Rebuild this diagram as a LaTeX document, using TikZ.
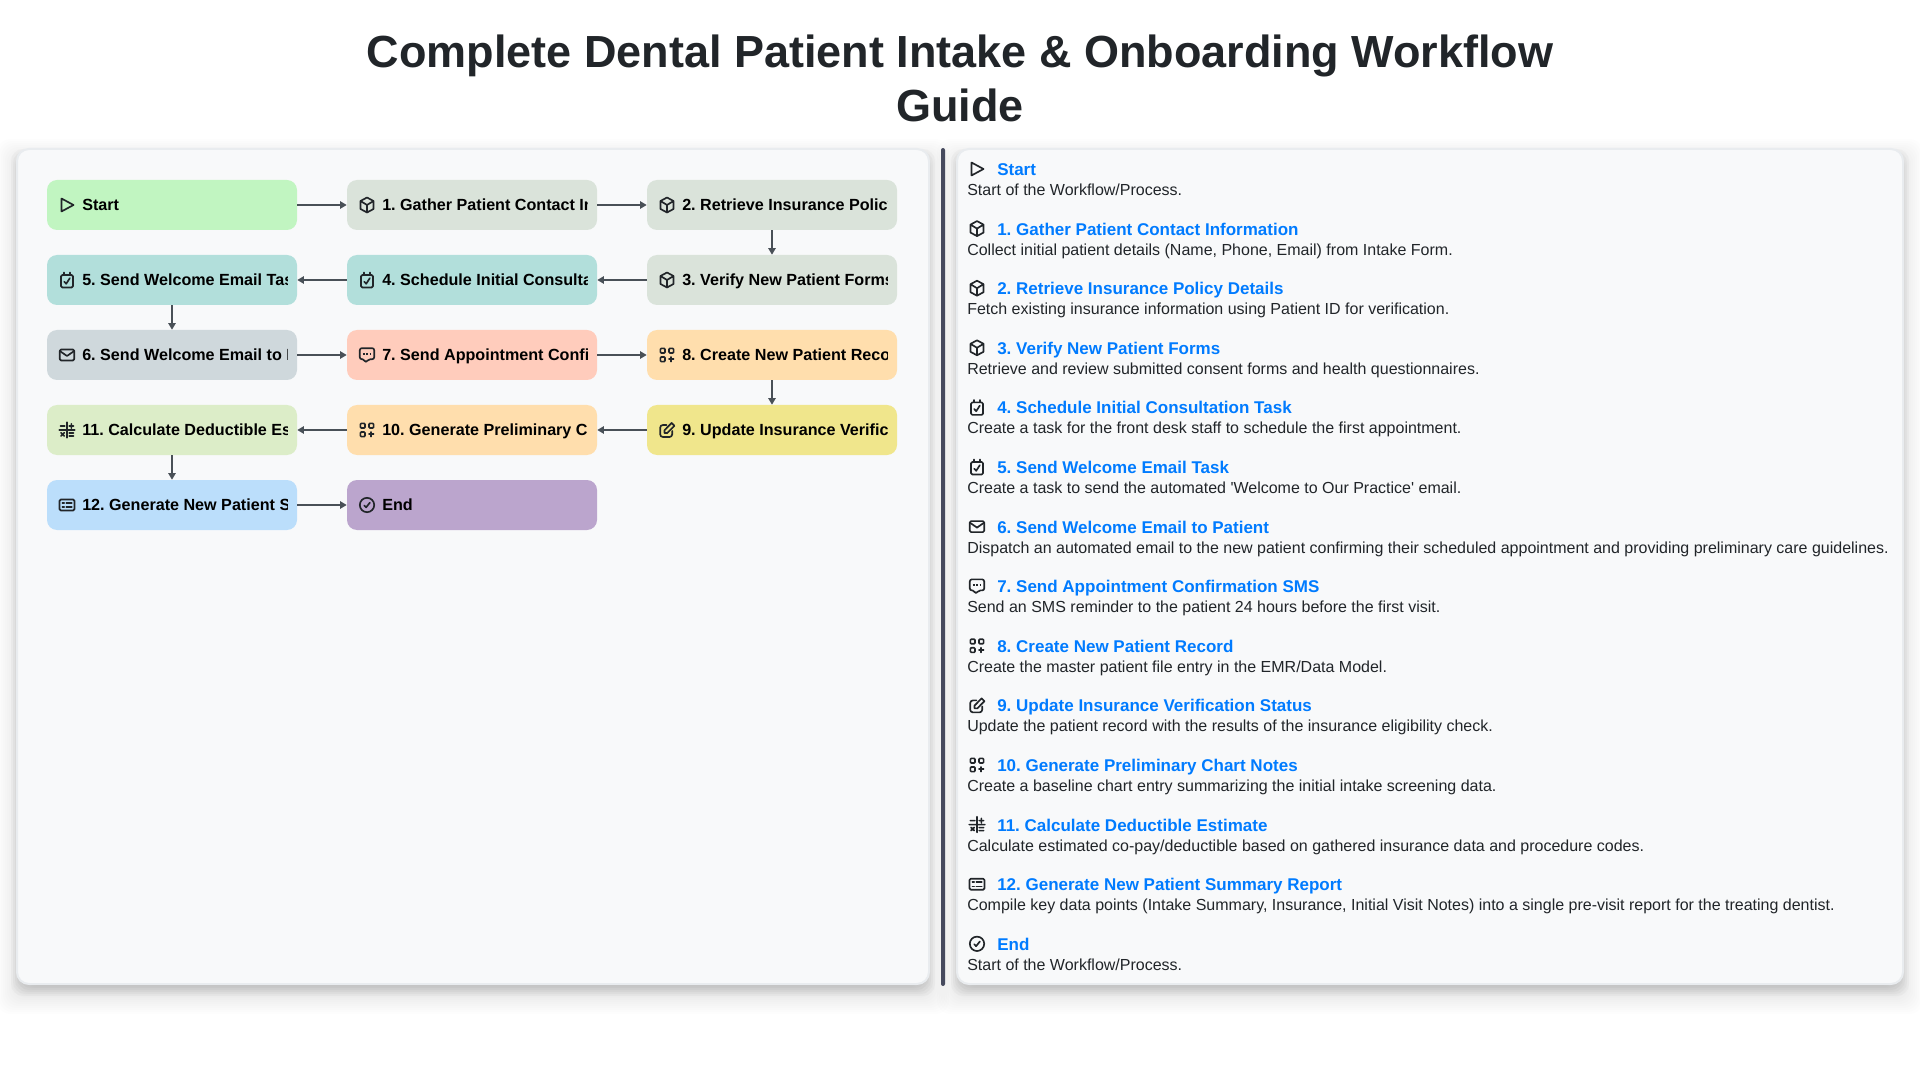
\documentclass[tikz,border=0pt]{standalone}
\usepackage{fontspec}
\setmainfont{Liberation Sans}[Ligatures=TeXOff]
\usetikzlibrary{calc,arrows.meta}
\frenchspacing

\definecolor{InkDark}{HTML}{212529}
\definecolor{LinkBlue}{HTML}{007BFF}
\definecolor{PanelBg}{HTML}{F8F9FA}
\definecolor{PanelEdge}{HTML}{E9ECEF}
\definecolor{ArrowGray}{HTML}{495057}
\definecolor{RuleDark}{HTML}{464A5E}
\definecolor{BoxStart}{HTML}{C1F5C1}
\definecolor{BoxPackage}{HTML}{DAE3DA}
\definecolor{BoxTask}{HTML}{B2DFDB}
\definecolor{BoxMail}{HTML}{CFD8DC}
\definecolor{BoxSms}{HTML}{FFCCBC}
\definecolor{BoxApps}{HTML}{FFDEAD}
\definecolor{BoxEdit}{HTML}{F0E68C}
\definecolor{BoxCalc}{HTML}{DCEDC8}
\definecolor{BoxList}{HTML}{BBDEFB}
\definecolor{BoxEnd}{HTML}{BBA5CD}

% icons, drawn round (0,0) in a 16px box
\newcommand\iconplay{\draw[iconline] (-5.5,-6.5) -- (-5.5,6.5) -- (6.5,0) -- cycle;}
\newcommand\iconbox{\draw[iconline] (0,-7.5) -- (6.5,-4) -- (6.5,4) -- (0,7.5) -- (-6.5,4) -- (-6.5,-4) -- cycle
  (-6.5,-4) -- (0,0) -- (6.5,-4) (0,0) -- (0,7.5);}
\newcommand\icontask{\draw[iconline,rounded corners=1pt] (-6,-5) rectangle (6,7.5);
  \draw[iconline] (-3,-7.5) -- (-3,-5) (3,-7.5) -- (3,-5) (-2.8,1.6) -- (-0.8,3.8) -- (2.8,-1.8);}
\newcommand\iconmail{\draw[iconline,rounded corners=1pt] (-7.2,-5.5) rectangle (7.2,5.5);
  \draw[iconline] (-7.2,-4) -- (0,1) -- (7.2,-4);}
\newcommand\iconsms{\draw[iconline,rounded corners=1.5pt] (-7.2,-6.8) -- (7.2,-6.8) -- (7.2,4.2) -- (1.5,4.2) -- (-1.5,7.8) -- (-2.5,4.2) -- (-7.2,4.2) -- cycle;
  \draw[line width=1.6pt,densely dotted,InkDark] (-4.2,-1.2) -- (4.4,-1.2);}
\newcommand\iconapps{\draw[iconline,rounded corners=.7pt] (-6.6,-6.6) rectangle (-2,-2) (2,-6.6) rectangle (6.6,-2) (-6.6,2) rectangle (-2,6.6);
  \draw[iconline] (4.3,2) -- (4.3,6.6) (2,4.3) -- (6.6,4.3);}
\newcommand\iconedit{\draw[iconline,rounded corners=2pt] (-0.5,-5) -- (-6.8,-5) -- (-6.8,7) -- (5.2,7) -- (5.2,1);
  \draw[iconline] (-2.5,3) -- (-2.5,0.2) -- (4.6,-7) -- (7.4,-4.2) -- (0.3,3) -- cycle;}
\newcommand\iconcalc{\draw[iconline] (-7.8,0) -- (7.8,0) (0,-7.8) -- (0,7.8)
  (-6.6,-4) -- (-2.2,-4) (2.2,-4) -- (6.6,-4) (4.4,-6.2) -- (4.4,-1.8)
  (-6,2.8) -- (-2.8,6) (-2.8,2.8) -- (-6,6) (2.2,3) -- (6.6,3) (2.2,6) -- (6.6,6);}
\newcommand\iconlist{\draw[iconline,rounded corners=1pt] (-7.5,-5.5) rectangle (7.5,5.5);
  \draw[iconline] (-4.6,-2.2) -- (-2.8,-2.2) (-4.6,2.2) -- (-2.8,2.2)
  (-0.6,-2.2) -- (4.8,-2.2) (-0.6,2.2) -- (4.8,2.2);}
\newcommand\iconend{\draw[iconline] (0,0) circle[radius=7.2]; \draw[iconline] (-2.8,0.4) -- (-0.9,2.4) -- (2.9,-2.4);}

% soft shadow and panel: x0, y0, x1, y1
\newcommand\softpanel[4]{%
  \foreach \s in {-20,-18,...,20}
    \fill[black,opacity=.009,rounded corners=10pt] (#1-\s,#2-\s+10) rectangle (#3+\s,#4+\s+10);
  \foreach \s in {-6,-4,...,6}
    \fill[black,opacity=.022,rounded corners=9pt] (#1-\s,#2-\s+6) rectangle (#3+\s,#4+\s+6);
  \draw[draw=PanelEdge,fill=PanelBg,line width=1.5pt,rounded corners=9pt] (#1,#2) rectangle (#3,#4);
}
% name, x, y, colour, icon, label
\newcommand\flowbox[6]{%
  \node[flownode,fill=#4] (#1) at (#2,#3) {};
  \begin{scope}[shift={(#2-105,#3)}]
    #5
  \end{scope}
  \begin{scope}
    \clip (#2-90,#3-25) rectangle (#2+115,#3+25);
    \node[flowtext] (#1t) at (#2-90,#3+5.5) {#6};
  \end{scope}
}

\begin{document}
\begin{tikzpicture}[x=0.75pt,y=-0.75pt]
\tikzstyle{iconline}=[draw=InkDark,line width=1.25pt,line join=round,line cap=round]
\tikzstyle{flownode}=[rounded corners=7.5pt,minimum width=187.5pt,minimum height=37.5pt,inner sep=0pt]
\tikzstyle{flowtext}=[anchor=base west,inner sep=0pt,text=black,font=\fontsize{12.1pt}{14pt}\selectfont\bfseries]
\tikzstyle{flowedge}=[draw=ArrowGray,line width=1.5pt,-{Triangle[length=5pt,width=5.5pt]}]
\tikzstyle{itemtitle}=[anchor=base west,inner sep=0pt,text=LinkBlue,font=\fontsize{12.75pt}{16pt}\selectfont\bfseries]
\tikzstyle{itemtext}=[anchor=base west,inner sep=0pt,text=InkDark,font=\fontsize{12pt}{14pt}\selectfont]

\useasboundingbox (0,0) rectangle (1920,1080);
\fill[white] (0,0) rectangle (1920,1080);

\node[align=center,text=InkDark,inner sep=0pt,font=\fontsize{33.75pt}{40.5pt}\selectfont\bfseries] (title) at (960,78)
  {Complete Dental Patient Intake \& Onboarding Workflow\\Guide};

\softpanel{17}{149}{929}{984}
\softpanel{957}{149}{1903}{984}

\fill[RuleDark,rounded corners=1.5pt] (941,148) rectangle (945,986);

\flowbox{start}{172}{205}{BoxStart}{\iconplay}{Start}
\flowbox{gather}{472}{205}{BoxPackage}{\iconbox}{1. Gather Patient Contact In}
\flowbox{policy}{772}{205}{BoxPackage}{\iconbox}{2. Retrieve Insurance Policy}
\flowbox{forms}{772}{280}{BoxPackage}{\iconbox}{3. Verify New Patient Forms}
\flowbox{consult}{472}{280}{BoxTask}{\icontask}{4. Schedule Initial Consulta}
\flowbox{mailtask}{172}{280}{BoxTask}{\icontask}{5. Send Welcome Email Tas}
\flowbox{mailsend}{172}{355}{BoxMail}{\iconmail}{6. Send Welcome Email to P}
\flowbox{sms}{472}{355}{BoxSms}{\iconsms}{7. Send Appointment Confi}
\flowbox{record}{772}{355}{BoxApps}{\iconapps}{8. Create New Patient Reco}
\flowbox{verify}{772}{430}{BoxEdit}{\iconedit}{9. Update Insurance Verific}
\flowbox{notes}{472}{430}{BoxApps}{\iconapps}{10. Generate Preliminary Ch}
\flowbox{deduct}{172}{430}{BoxCalc}{\iconcalc}{11. Calculate Deductible Es}
\flowbox{summary}{172}{505}{BoxList}{\iconlist}{12. Generate New Patient S}
\flowbox{finish}{472}{505}{BoxEnd}{\iconend}{End}

\foreach \a/\b in {start/gather,gather/policy,policy/forms,forms/consult,consult/mailtask,mailtask/mailsend,
  mailsend/sms,sms/record,record/verify,verify/notes,notes/deduct,deduct/summary,summary/finish}
{
  \draw[flowedge] (\a) -- (\b);
}

\foreach \i/\ic/\ti/\de in {
  0/\iconplay/{Start}/{Start of the Workflow/Process.},
  1/\iconbox/{1. Gather Patient Contact Information}/{Collect initial patient details (Name, Phone, Email) from Intake Form.},
  2/\iconbox/{2. Retrieve Insurance Policy Details}/{Fetch existing insurance information using Patient ID for verification.},
  3/\iconbox/{3. Verify New Patient Forms}/{Retrieve and review submitted consent forms and health questionnaires.},
  4/\icontask/{4. Schedule Initial Consultation Task}/{Create a task for the front desk staff to schedule the first appointment.},
  5/\icontask/{5. Send Welcome Email Task}/{Create a task to send the automated 'Welcome to Our Practice' email.},
  6/\iconmail/{6. Send Welcome Email to Patient}/{Dispatch an automated email to the new patient confirming their scheduled appointment and providing preliminary care guidelines.},
  7/\iconsms/{7. Send Appointment Confirmation SMS}/{Send an SMS reminder to the patient 24 hours before the first visit.},
  8/\iconapps/{8. Create New Patient Record}/{Create the master patient file entry in the EMR/Data Model.},
  9/\iconedit/{9. Update Insurance Verification Status}/{Update the patient record with the results of the insurance eligibility check.},
  10/\iconapps/{10. Generate Preliminary Chart Notes}/{Create a baseline chart entry summarizing the initial intake screening data.},
  11/\iconcalc/{11. Calculate Deductible Estimate}/{Calculate estimated co-pay/deductible based on gathered insurance data and procedure codes.},
  12/\iconlist/{12. Generate New Patient Summary Report}/{Compile key data points (Intake Summary, Insurance, Initial Visit Notes) into a single pre-visit report for the treating dentist.},
  13/\iconend/{End}/{Start of the Workflow/Process.}}
{
  \pgfmathsetmacro\yy{175+59.6*\i}
  \begin{scope}[shift={(977,\yy-6)}]
    \ic
  \end{scope}
  \node[itemtitle] (item\i) at (997,\yy+0.5) {\ti};
  \node[itemtext] (desc\i) at (967,\yy+20.5) {\de};
}
\end{tikzpicture}
\end{document}
